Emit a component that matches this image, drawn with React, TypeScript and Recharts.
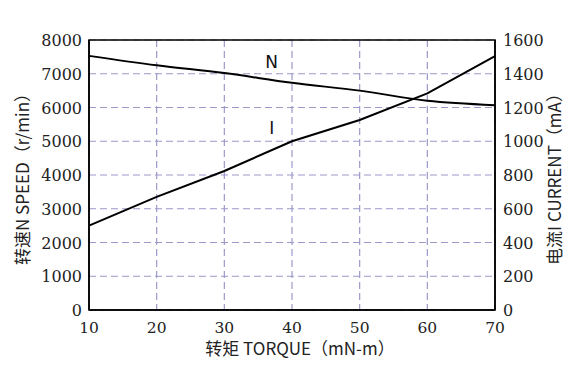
import React from "react";
import {
  LineChart,
  Line,
  XAxis,
  YAxis,
  CartesianGrid,
  ReferenceArea,
  ReferenceDot,
  Label,
} from "recharts";

const torque = [10, 20, 30, 40, 50, 60, 70];
const speed = [7530, 7250, 7020, 6730, 6500, 6200, 6070];
const current = [500, 670, 824, 1000, 1126, 1284, 1505];

const xTicks = [10, 20, 30, 40, 50, 60, 70];
const speedTicks = [0, 1000, 2000, 3000, 4000, 5000, 6000, 7000, 8000];
const currentTicks = [0, 200, 400, 600, 800, 1000, 1200, 1400, 1600];

const xTitle = "转矩  TORQUE（mN-m）";
const leftTitle = "转速N SPEED（r/min）";
const rightTitle = "电流I CURRENT（mA）";

// where the curve names sit (x torque, y on the speed axis)
const nLabelAt = { x: 37, y: 7350, text: "N" };
const iLabelAt = { x: 37, y: 5400, text: "I" };

const data = torque.map((t, i) => ({ t, n: speed[i], i: current[i] }));

const serif = "DejaVu Serif";
const titleFont = "Noto Sans CJK SC";
const gridColor = "#9b99c9";

function renderTick(size: number, dy: number) {
  return (props: any) => {
    const { x, y, payload, textAnchor } = props;
    return (
      <text
        x={x}
        y={y}
        dy={dy}
        textAnchor={textAnchor}
        fontFamily={serif}
        fontSize={size}
        fill="#222"
        style={{ fontFamily: serif, fontSize: size }}
      >
        {payload.value}
      </text>
    );
  };
}

function Title({ text, x, y, angle }: { text: string; x: number; y: number; angle: number }) {
  return (
    <text
      transform={`translate(${x} ${y}) rotate(${angle})`}
      textAnchor="middle"
      style={{ fontFamily: titleFont, fontSize: 17, fill: "#222" }}
    >
      {text}
    </text>
  );
}

export default function App() {
  return (
    <div style={{ position: "absolute", left: 0, top: 0, background: "#fff" }}>
      <LineChart
        width={580}
        height={390}
        data={data}
        margin={{ top: 40, right: 0, left: 0, bottom: 0 }}
      >
        <CartesianGrid
          yAxisId="n"
          stroke={gridColor}
          strokeDasharray="7 4"
          strokeWidth={1.2}
        />
        <XAxis
          dataKey="t"
          type="number"
          domain={[10, 70]}
          ticks={xTicks}
          height={80}
          tick={renderTick(15.5, 14)}
          tickLine={false}
          axisLine={{ stroke: "#000", strokeWidth: 1.5 }}
          tickMargin={3}
        >
          <Label content={() => <Title text={xTitle} x={300} y={355} angle={0} />} />
        </XAxis>
        <YAxis
          yAxisId="n"
          orientation="left"
          domain={[0, 8000]}
          ticks={speedTicks}
          width={89}
          tick={renderTick(16, 6)}
          tickLine={false}
          axisLine={{ stroke: "#000", strokeWidth: 1.5 }}
          tickMargin={1}
        >
          <Label content={() => <Title text={leftTitle} x={29} y={175} angle={-90} />} />
        </YAxis>
        <YAxis
          yAxisId="i"
          orientation="right"
          domain={[0, 1600]}
          ticks={currentTicks}
          width={85}
          tick={renderTick(16, 6)}
          tickLine={false}
          axisLine={{ stroke: "#000", strokeWidth: 1.5 }}
          tickMargin={2}
        >
          <Label content={() => <Title text={rightTitle} x={561} y={175} angle={-90} />} />
        </YAxis>
        <ReferenceArea
          yAxisId="n"
          x1={10}
          x2={70}
          y1={0}
          y2={8000}
          fill="none"
          stroke="#000"
          strokeWidth={1.5}
          ifOverflow="visible"
        />
        <Line
          yAxisId="n"
          dataKey="n"
          type="monotone"
          stroke="#000"
          strokeWidth={2}
          dot={false}
          isAnimationActive={false}
        />
        <Line
          yAxisId="i"
          dataKey="i"
          type="linear"
          stroke="#000"
          strokeWidth={2}
          dot={false}
          isAnimationActive={false}
        />
        {[nLabelAt, iLabelAt].map((l) => (
          <ReferenceDot
            key={l.text}
            yAxisId="n"
            x={l.x}
            y={l.y}
            r={1}
            fill="none"
            stroke="none"
            label={{
              value: l.text,
              position: "center",
              fontSize: 17,
              fontFamily: "DejaVu Sans",
              fill: "#111",
            }}
          />
        ))}
      </LineChart>
    </div>
  );
}
